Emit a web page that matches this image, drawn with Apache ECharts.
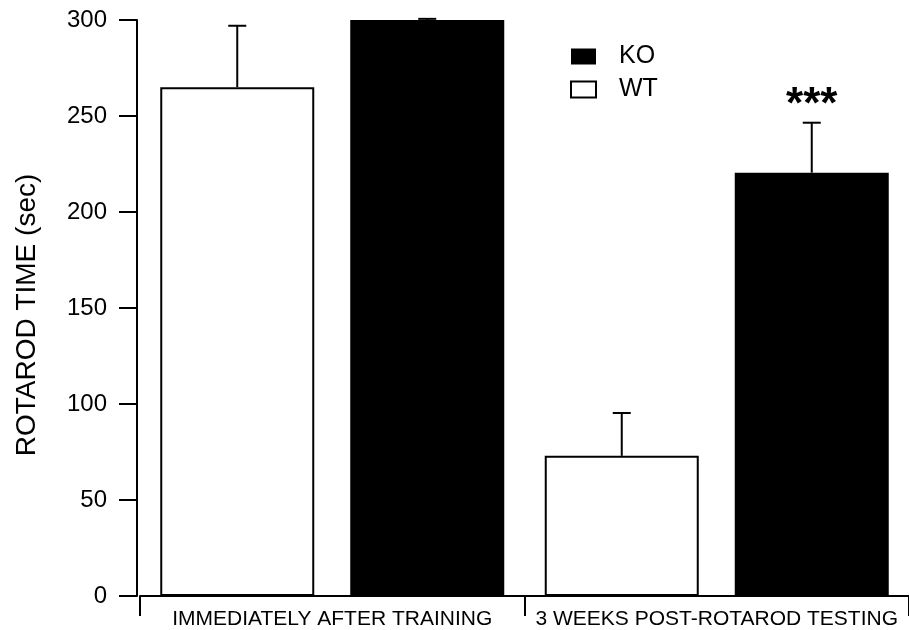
<!DOCTYPE html>
<html>
<head>
<meta charset="utf-8">
<script src="https://cdn.jsdelivr.net/npm/echarts@6/dist/echarts.min.js"></script>
<style>html,body{margin:0;padding:0;background:#fff;}#c{width:909px;height:630px;}</style>
</head>
<body>
<div id="c"></div>
<script>
const categories = ['IMMEDIATELY AFTER TRAINING', '3 WEEKS POST-ROTAROD TESTING'];
const wtMeans = [265, 73];
const wtErr = [32, 22.3];
const koMeans = [300, 220.5];
const koErr = [0.6, 26];
const koSig = ['', '***'];
const yTicks = { min: 0, max: 300, interval: 50 };

const FONT = "'Liberation Sans', Arial, sans-serif";
const BAR_W = 154, GAP = 36;

function errSeries(name, means, errs, side, labels) {
  return {
    type: 'custom',
    name: name + ' err',
    z: 1,
    silent: true,
    data: means.map((m, i) => [i, m, errs[i]]),
    encode: { x: 0, y: 1 },
    renderItem: function (params, api) {
      const cat = api.value(0), mean = api.value(1), err = api.value(2);
      const x = api.coord([cat, 0])[0] + side * (BAR_W + GAP) / 2;
      const yBar = api.coord([cat, mean])[1];
      const yTop = api.coord([cat, mean + err])[1];
      const st = { stroke: '#000', lineWidth: 2 };
      const children = [
        { type: 'line', shape: { x1: x, y1: yBar, x2: x, y2: yTop }, style: st },
        { type: 'line', shape: { x1: x - 9, y1: yTop, x2: x + 9, y2: yTop }, style: st }
      ];
      const lab = labels ? labels[params.dataIndex] : '';
      if (lab) {
        children.push({ type: 'text', x: x, y: yTop + 5,
          style: { text: lab, fill: '#000', font: 'bold 44px ' + FONT, align: 'center', verticalAlign: 'bottom' } });
      }
      return { type: 'group', children: children };
    }
  };
}

const chart = echarts.init(document.getElementById('c'), null, { renderer: 'canvas' });
chart.setOption({
  animation: false,
  backgroundColor: '#fff',
  textStyle: { fontFamily: FONT, color: '#000' },
  grid: { left: 140, right: 0, top: 20, bottom: 34, containLabel: false },
  legend: {
    data: ['KO', 'WT'],
    orient: 'vertical',
    left: 570, top: 44,
    padding: 0,
    itemWidth: 25, itemHeight: 16, itemGap: 8,
    icon: 'rect',
    textStyle: { fontSize: 25, color: '#000', fontFamily: FONT, padding: [0, 0, 0, 18] }
  },
  xAxis: {
    type: 'category',
    data: categories,
    offset: 4,
    axisLine: { lineStyle: { color: '#000', width: 2 } },
    axisTick: { show: true, length: 20, lineStyle: { color: '#000', width: 2 } },
    axisLabel: { fontSize: 21, color: '#000', margin: 9, fontFamily: FONT, interval: 0 }
  },
  yAxis: {
    type: 'value',
    min: yTicks.min, max: yTicks.max, interval: yTicks.interval,
    offset: 3,
    name: 'ROTAROD TIME (sec)',
    nameLocation: 'middle',
    nameGap: 96,
    nameTextStyle: { fontSize: 28, color: '#000', fontFamily: FONT, padding: [0, 14, 0, 0] },
    splitLine: { show: false },
    axisLine: { show: true, lineStyle: { color: '#000', width: 2 } },
    axisTick: { show: true, length: 18, lineStyle: { color: '#000', width: 2 } },
    axisLabel: { fontSize: 24, color: '#000', margin: 30, fontFamily: FONT }
  },
  series: [
    {
      name: 'WT', type: 'bar', data: wtMeans, barWidth: BAR_W, barGap: (GAP / BAR_W * 100) + '%',
      itemStyle: { color: '#fff', borderColor: '#000', borderWidth: 2 }, z: 2
    },
    {
      name: 'KO', type: 'bar', data: koMeans, barWidth: BAR_W,
      itemStyle: { color: '#000', borderColor: '#000', borderWidth: 0 }, z: 2
    },
    errSeries('WT', wtMeans, wtErr, -1, null),
    errSeries('KO', koMeans, koErr, 1, koSig)
  ]
});
</script>
</body>
</html>
